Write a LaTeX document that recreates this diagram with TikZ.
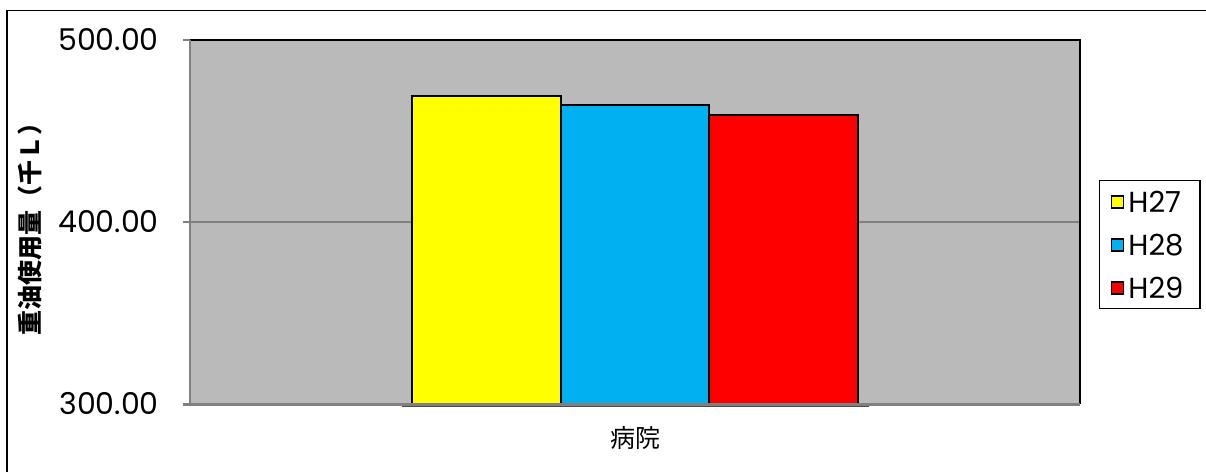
\documentclass[tikz,border=0pt]{standalone}
\usepackage{fontspec}
\setmainfont{Poppins}
\newfontfamily\jpfont{Noto Sans CJK JP}
\usetikzlibrary{positioning}

\definecolor{plotgray}{RGB}{186,186,186}
\definecolor{axisgray}{RGB}{128,128,128}
\definecolor{barYellow}{RGB}{255,255,0}
\definecolor{barBlue}{RGB}{0,176,240}
\definecolor{barRed}{RGB}{255,0,0}

\begin{document}
\begin{tikzpicture}[x=1pt, y=-1pt,
    bar/.style={draw=black, line width=2pt},
    ticklabel/.style={anchor=east, inner sep=0pt, font=\fontsize{30}{35}\selectfont},
    keybox/.style={draw=black, line width=1.5pt, minimum size=12pt, inner sep=0pt},
    keytext/.style={right=4pt of #1, inner sep=0pt, font=\fontsize{29}{34}\selectfont}]

    \useasboundingbox (0,0) rectangle (1206,472);

    % outer frame
    \draw[line width=1.5pt] (7,472) -- (7,10.5) -- (1206,10.5);

    % plot area and grid
    \fill[plotgray] (190,40) rectangle (1080,404);
    \draw[axisgray, line width=1.2pt] (183,222) -- (1080,222);
    \draw[line width=1.5pt] (190,40) -- (1080,40) -- (1080,404);
    \draw[axisgray, line width=2pt] (190,40) -- (190,404);
    \draw[axisgray, line width=1.2pt] (183,40) -- (190,40);

    % bars
    \draw[bar, fill=barYellow] (412.3,404) rectangle (560.7,96);
    \draw[bar, fill=barBlue] (560.7,404) rectangle (709.3,105);
    \draw[bar, fill=barRed] (709.3,404) rectangle (858.3,115);

    % horizontal axis
    \draw[axisgray, line width=3pt] (183,404) -- (1080,404);
    \draw[black!70, line width=1pt] (402,406) -- (869,406);

    % axis labels
    \draw(159,40) node[ticklabel] (v500) {500.00};
    \draw(159,222) node[ticklabel] (v400) {400.00};
    \draw(159,404) node[ticklabel] (v300) {300.00};
    \draw(635,438) node[font=\jpfont\fontsize{25}{29}\selectfont] (cat) {病院};
    \draw(30,223) node[rotate=90, font=\jpfont\bfseries\fontsize{25}{30}\selectfont] (ytitle) {重油使用量（千Ｌ）};

    % legend
    \draw[line width=1.5pt, fill=white] (1099.3,180.7) rectangle (1200,308.3);
    \draw(1117.5,202) node[keybox, fill=barYellow] (k27) {};
    \draw(1117.5,245) node[keybox, fill=barBlue] (k28) {};
    \draw(1117.5,288) node[keybox, fill=barRed] (k29) {};
    \node[keytext=k27] (t27) {H27};
    \node[keytext=k28] (t28) {H28};
    \node[keytext=k29] (t29) {H29};

\end{tikzpicture}
\end{document}
